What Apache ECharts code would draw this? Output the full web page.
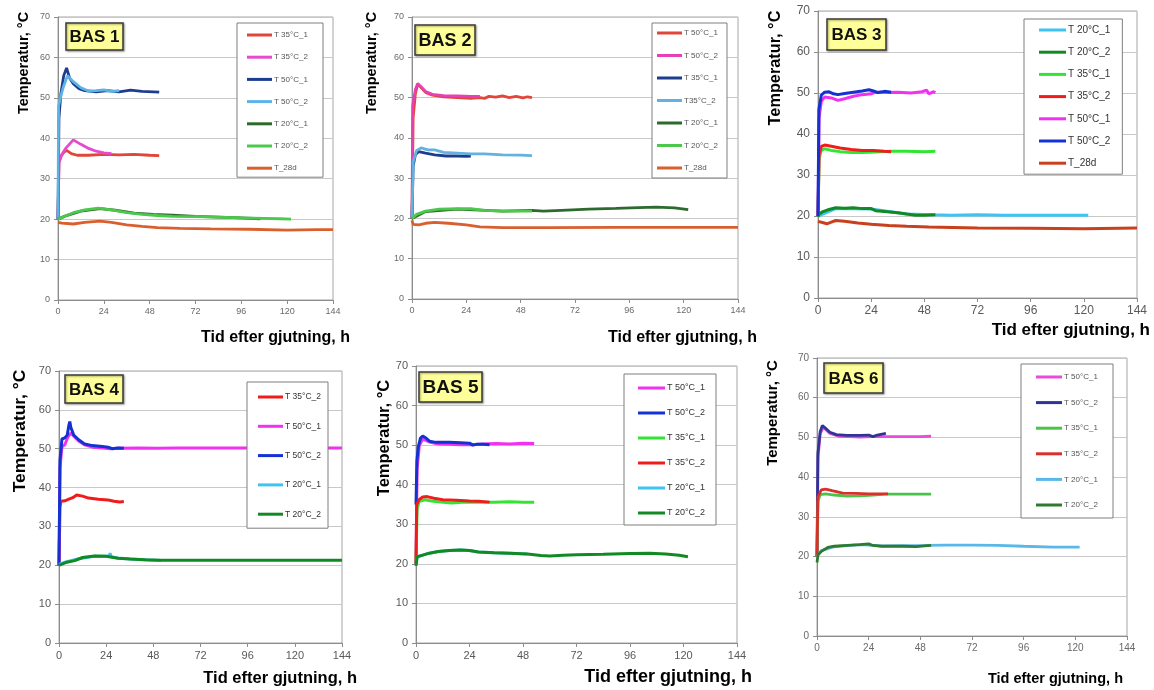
<!DOCTYPE html>
<html>
<head>
<meta charset="utf-8">
<script src="https://cdn.jsdelivr.net/npm/echarts@6/dist/echarts.min.js"></script>
<style>
  html, body { margin: 0; padding: 0; background: #ffffff; }
  #chart { width: 1154px; height: 690px; }
</style>
</head>
<body>
<div id="chart"></div>
<script>
// Temperature curves (h after casting, °C) for six mixes BAS 1 - BAS 6.
const hourTicks = [0, 24, 48, 72, 96, 120, 144];
const tempTicks = [0, 10, 20, 30, 40, 50, 60, 70];

// ---- BAS 1 ----
const b1_names = ['T 35°C_1', 'T 35°C_2', 'T 50°C_1', 'T 50°C_2', 'T 20°C_1', 'T 20°C_2', 'T_28d'];
const b1_t35_1 = [[0,20],[0.5,34],[1.5,35.5],[3,36.5],[4.5,37],[7,36.2],[10,35.8],[16,35.8],[24,36],[32,35.9],[40,36],[48,35.8],[53,35.7]];
const b1_t35_2 = [[0,20],[0.5,34],[2,36],[4,37.5],[8,39.6],[12,38.5],[16,37.5],[20,36.8],[24,36.4],[28,36.2]];
const b1_t50_1 = [[0,20],[0.5,45],[1.5,51],[3,55.5],[4.5,57.4],[6,55],[8,53.5],[11,52.3],[14,51.8],[20,51.5],[26,51.8],[32,51.5],[38,51.9],[44,51.6],[50,51.5],[53,51.4]];
const b1_t50_2 = [[0,20],[0.3,48],[1.5,50.5],[3,53],[5,55.5],[8,54],[12,52.5],[16,51.7],[20,51.8],[24,52],[28,51.6],[32,51.8]];
const b1_t20_1 = [[0,20],[4,20.8],[12,22],[22,22.6],[30,22.2],[40,21.5],[50,21.2],[60,21],[72,20.7],[84,20.5],[96,20.3],[106,20.1]];
const b1_t20_2 = [[0,20],[3,20.6],[8,21.6],[14,22.3],[21,22.7],[28,22.3],[36,21.6],[44,21.2],[52,20.9],[60,20.7],[72,20.6],[84,20.5],[96,20.3],[108,20.2],[116,20.1],[122,20]];
const b1_t28d = [[0,19.2],[2,19],[8,18.8],[14,19.2],[22,19.5],[28,19.2],[36,18.6],[44,18.2],[52,17.9],[64,17.7],[80,17.6],[100,17.5],[120,17.3],[135,17.4],[144,17.4]];

// ---- BAS 2 ----
const b2_names = ['T 50°C_1', 'T 50°C_2', 'T 35°C_1', 'T35°C_2', 'T 20°C_1', 'T 20°C_2', 'T_28d'];
const b2_t50_1 = [[0,20],[0.5,45],[1.5,51],[2.5,53.3],[4,52.5],[6,51.3],[9,50.6],[14,50.2],[20,50],[26,49.8],[30,50],[32,49.8],[34,50.3],[37,50.1],[40,50.4],[43,50],[46,50.3],[49,49.9],[51,50.2],[53,50]];
const b2_t50_2 = [[0,20],[0.3,48],[1.5,52],[2.5,53.5],[4,52.7],[6,51.5],[9,50.8],[14,50.5],[20,50.4],[26,50.3],[30,50.3]];
const b2_t35_1 = [[0,20],[0.5,33],[1.5,35.8],[3,36.6],[6,36.2],[10,35.8],[15,35.5],[20,35.5],[24,35.4],[26,35.5]];
const b2_t35_2 = [[0,20],[0.5,34],[2,36.8],[4,37.5],[7,37],[10,37],[14,36.4],[20,36.2],[26,36],[32,36],[40,35.8],[48,35.7],[53,35.6]];
const b2_t20_1 = [[0,20],[6,21.7],[20,22.3],[40,21.8],[53,22],[58,21.8],[66,22],[78,22.3],[90,22.5],[100,22.7],[108,22.8],[116,22.6],[122,22.2]];
const b2_t20_2 = [[0,20],[2,21],[6,21.8],[12,22.3],[20,22.4],[26,22.4],[32,22],[40,21.8],[48,21.8],[53,21.8]];
const b2_t28d = [[0,19.5],[0.5,18.5],[3,18.4],[6,18.8],[10,19],[16,18.8],[24,18.4],[30,17.9],[40,17.7],[60,17.7],[90,17.8],[120,17.8],[144,17.8]];

// ---- BAS 3 ----
const b3_names = ['T 20°C_1', 'T 20°C_2', 'T 35°C_1', 'T 35°C_2', 'T 50°C_1', 'T 50°C_2', 'T_28d'];
const b3_t20_1 = [[0,20],[8,21.8],[24,21.7],[40,20.5],[52,20.3],[60,20.2],[72,20.3],[84,20.2],[96,20.2],[108,20.2],[122,20.2]];
const b3_t20_2 = [[0,19.8],[0.5,20.5],[2,21],[5,21.6],[8,22],[12,21.9],[16,22],[20,21.8],[24,21.8],[26,21.3],[30,21.1],[36,20.8],[40,20.5],[44,20.2],[48,20.2],[53,20.3]];
const b3_t35_1 = [[0,20],[0.5,34],[1.5,36],[3,36.4],[6,36],[10,35.7],[15,35.5],[20,35.5],[26,35.6],[33,35.8],[40,35.8],[48,35.7],[53,35.8]];
const b3_t35_2 = [[0,20],[0.5,35],[1.5,37],[3,37.3],[6,37],[10,36.6],[15,36.2],[20,36],[25,36],[30,35.8],[33,35.7]];
const b3_t50_1 = [[0,20],[0.5,44],[1.5,48],[3,49],[6,48.8],[9,48.2],[12,48.6],[16,49.2],[20,49.6],[24,49.8],[26,50.2],[30,50.1],[36,50.2],[42,50],[47,50.3],[49,50.7],[50,49.8],[52,50.3],[53,50.1]];
const b3_t50_2 = [[0,20],[0.4,46],[1.5,49.5],[3,50.2],[5,50.3],[7,49.8],[9,49.6],[12,49.9],[16,50.2],[20,50.5],[23,50.8],[25,50.5],[27,50.1],[30,50.4],[33,50.2]];
const b3_t28d = [[0,18.7],[2,18.4],[4,18.1],[6,18.5],[8,18.9],[12,18.7],[18,18.3],[24,18],[32,17.7],[40,17.5],[50,17.3],[72,17.1],[96,17],[120,16.9],[144,17.1]];

// ---- BAS 4 ----
const b4_names = ['T 35°C_2', 'T 50°C_1', 'T 50°C_2', 'T 20°C_1', 'T 20°C_2'];
const b4_t35_2 = [[0,20],[0.5,35],[1,36.5],[3,36.6],[5,37],[7,37.4],[9,38.1],[10,38.2],[12,37.8],[15,37.3],[20,37],[25,36.8],[28,36.5],[31,36.3],[33,36.4]];
const b4_t50_1 = [[0,20],[0.5,45],[1.5,50.5],[3,51],[4.5,53],[6,54],[8,53],[10,52],[13,51],[17,50.4],[22,50.2],[26,50],[30,50.1],[40,50.2],[50,50.1],[60,50.2],[80,50.2],[100,50.2],[120,50.2],[144,50.2]];
const b4_t50_2 = [[0,20],[0.5,47],[1.5,52.5],[3,52.8],[4.2,53.5],[5,56],[5.5,57],[6,55.5],[7.5,53.5],[10,52.3],[13,51.2],[17,50.8],[22,50.6],[25,50.4],[26,50.6],[27,50],[30,50.2],[33,50.1]];
const b4_t20_1 = [[0,20.2],[3,20.8],[10,21.7],[18,22.3],[24,22.3],[25.5,22.4],[26,23.1],[26.5,22.2],[30,21.9],[40,21.5],[48,21.3],[52,21.2]];
const b4_t20_2 = [[0,20],[1,20.5],[4,20.8],[8,21.2],[12,22],[18,22.4],[24,22.3],[30,21.8],[36,21.6],[44,21.4],[52,21.3],[72,21.3],[100,21.3],[144,21.3]];

// ---- BAS 5 ----
const b5_names = ['T 50°C_1', 'T 50°C_2', 'T 35°C_1', 'T 35°C_2', 'T 20°C_1', 'T 20°C_2'];
const b5_t50_1 = [[0,20],[0.5,44],[1.5,50],[3,51.5],[6,50.8],[10,50.3],[15,50.2],[20,50.1],[25,50.1],[30,50.3],[36,50.4],[42,50.3],[48,50.5],[53,50.4]];
const b5_t50_2 = [[0,35],[0.4,46],[1,49.5],[2,51.8],[3,52.3],[4.5,51.8],[6,51],[9,50.7],[15,50.7],[20,50.6],[24,50.5],[25.5,50],[27,50.2],[30,50.2],[33,50.1]];
const b5_t35_1 = [[0,20],[0.5,34],[1.5,35.8],[4,36.2],[7,35.9],[11,35.6],[16,35.4],[22,35.6],[28,35.6],[35,35.6],[42,35.7],[48,35.6],[53,35.6]];
const b5_t35_2 = [[0,20],[0.3,35],[1.5,36.3],[3,36.9],[5,37],[8,36.6],[12,36.2],[18,36.1],[24,35.9],[28,35.8],[33,35.6]];
const b5_t20_1 = [[0,19.8],[0.5,21.7],[3,22.2],[6,22.7],[10,23.1],[15,23.4],[20,23.5],[24,23.4],[28,23],[35,22.8],[42,22.7],[50,22.5]];
const b5_t20_2 = [[0,19.5],[0.5,21.8],[3,22.2],[6,22.7],[10,23.1],[15,23.4],[20,23.5],[24,23.4],[28,23],[35,22.8],[42,22.7],[50,22.5],[56,22.1],[60,22],[66,22.2],[72,22.3],[84,22.4],[96,22.6],[105,22.7],[112,22.5],[118,22.2],[122,21.8]];

// ---- BAS 6 ----
const b6_names = ['T 50°C_1', 'T 50°C_2', 'T 35°C_1', 'T 35°C_2', 'T 20°C_1', 'T 20°C_2'];
const b6_t50_1 = [[0,20],[0.5,45],[1.5,51],[3,52.5],[6,51],[10,50.3],[15,50.2],[20,50.1],[26,50.2],[32,50.2],[40,50.2],[48,50.2],[53,50.3]];
const b6_t50_2 = [[0,20],[0.4,46],[1.5,51.5],[2.5,53],[4,52.3],[6,51.3],[9,50.7],[14,50.5],[20,50.5],[24,50.6],[26,50.2],[28,50.6],[32,51]];
const b6_t35_1 = [[0,20],[0.5,34],[1.5,35.6],[4,35.8],[8,35.5],[14,35.2],[20,35.3],[26,35.5],[32,35.7],[40,35.7],[48,35.7],[53,35.7]];
const b6_t35_2 = [[0,20],[0.4,35],[2,36.8],[4,37],[7,36.6],[12,36],[18,35.9],[24,35.8],[30,35.8],[33,35.8]];
const b6_t20_1 = [[0,20],[2,21.5],[8,22.5],[20,23],[30,22.7],[50,22.8],[60,22.9],[72,22.9],[84,22.8],[96,22.6],[110,22.4],[122,22.4]];
const b6_t20_2 = [[0,18.5],[0.5,20.5],[2,21.3],[5,22.3],[8,22.6],[14,22.8],[20,23],[24,23.2],[26,22.8],[30,22.6],[40,22.6],[46,22.5],[50,22.7],[53,22.8]];

// Scanned-look palette (BAS 1, 2, 6) and the brighter palette (BAS 3, 4, 5)
const C = {
  red: '#e0463a', mag: '#e64acd', dblue: '#1f3d8f', lblue: '#5ab4e5',
  dgreen: '#2d6a2d', lgreen: '#4cc94c', t28: '#d9602e',
  vRed: '#f01c1c', vMag: '#f032f0', vBlue: '#1432d2', vLblue: '#3dc4f2',
  vDgreen: '#128a24', vGreen: '#33e533', vT28: '#c8401c'
};

const panels = [
  { id: 1, grid: [58, 17, 275, 283], names: b1_names,
    data: [b1_t35_1, b1_t35_2, b1_t50_1, b1_t50_2, b1_t20_1, b1_t20_2, b1_t28d],
    colors: [C.red, C.mag, C.dblue, C.lblue, C.dgreen, C.lgreen, C.t28],
    tickFont: 9, tickColor: '#6a6a6a', lw: 2.8,
    legend: { box: [237, 23], pad: [7, 5, 4, 10], iw: 25, ih: 3, gap: 12.2, font: 8, tw: 44, lh: 10, color: '#555' },
    bas: { rect: [66, 23, 57, 27], font: 17 },
    yTitle: { x: 24, y: 63, font: 14.5 }, xTitle: { x: 350, y: 338, font: 16 } },
  { id: 2, grid: [412, 17, 326, 282], names: b2_names,
    data: [b2_t50_1, b2_t50_2, b2_t35_1, b2_t35_2, b2_t20_1, b2_t20_2, b2_t28d],
    colors: [C.red, '#e640b4', C.dblue, '#62b2e0', C.dgreen, C.lgreen, C.t28],
    tickFont: 9, tickColor: '#6a6a6a', lw: 2.8,
    legend: { box: [652, 23], pad: [5, 5, 5, 5], iw: 25, ih: 3, gap: 12.5, font: 8, tw: 38, lh: 10, color: '#555' },
    bas: { rect: [415, 25, 60, 30], font: 18 },
    yTitle: { x: 372, y: 63, font: 14.5 }, xTitle: { x: 757, y: 338, font: 16 } },
  { id: 3, grid: [818, 11, 319, 287], names: b3_names,
    data: [b3_t20_1, b3_t20_2, b3_t35_1, b3_t35_2, b3_t50_1, b3_t50_2, b3_t28d],
    colors: [C.vLblue, C.vDgreen, C.vGreen, C.vRed, C.vMag, C.vBlue, C.vT28],
    tickFont: 12, tickColor: '#595959', lw: 3,
    legend: { box: [1024, 19], pad: [5, 12, 5, 15], iw: 27, ih: 3, gap: 10.2, font: 10, tw: 40, lh: 12, color: '#333' },
    bas: { rect: [827, 19, 59, 31], font: 17 },
    yTitle: { x: 776, y: 68, font: 16.3 }, xTitle: { x: 1150, y: 330, font: 17 } },
  { id: 4, grid: [59, 371, 283, 272], names: b4_names,
    data: [b4_t35_2, b4_t50_1, b4_t50_2, b4_t20_1, b4_t20_2],
    colors: [C.vRed, C.vMag, C.vBlue, C.vLblue, C.vDgreen],
    tickFont: 11, tickColor: '#595959', lw: 3,
    legend: { box: [247, 382], pad: [10, 6, 9, 11], iw: 25, ih: 3, gap: 19.3, font: 8.5, tw: 37, lh: 10, color: '#333' },
    bas: { rect: [65, 375, 58, 28], font: 17 },
    yTitle: { x: 20, y: 431, font: 17.4 }, xTitle: { x: 357, y: 678, font: 16.5 } },
  { id: 5, grid: [416, 366, 321, 277], names: b5_names,
    data: [b5_t50_1, b5_t50_2, b5_t35_1, b5_t35_2, b5_t20_1, b5_t20_2],
    colors: [C.vMag, C.vBlue, C.vGreen, C.vRed, C.vLblue, C.vDgreen],
    tickFont: 11, tickColor: '#595959', lw: 3,
    legend: { box: [624, 374], pad: [9, 8, 7, 14], iw: 27, ih: 3, gap: 15, font: 9, tw: 41, lh: 10, color: '#333' },
    bas: { rect: [419, 372, 63, 30], font: 19 },
    yTitle: { x: 384, y: 438, font: 16.5 }, xTitle: { x: 752, y: 677, font: 18 } },
  { id: 6, grid: [817, 358, 310, 278], names: b6_names,
    data: [b6_t50_1, b6_t50_2, b6_t35_1, b6_t35_2, b6_t20_1, b6_t20_2],
    colors: ['#e84cd8', '#2e3596', '#49c449', '#d8302a', '#5ab8e8', '#2d7a30'],
    tickFont: 10, tickColor: '#6a6a6a', lw: 2.8,
    legend: { box: [1021, 364], pad: [8, 11, 8, 15], iw: 26, ih: 3, gap: 15.6, font: 8, tw: 38, lh: 10, color: '#555' },
    bas: { rect: [824, 363, 59, 30], font: 17 },
    yTitle: { x: 773, y: 413, font: 15 }, xTitle: { x: 1123, y: 679, font: 14.5 } }
];

const FONT = '"Liberation Sans", Arial, sans-serif';
const option = {
  animation: false,
  backgroundColor: '#ffffff',
  grid: [], xAxis: [], yAxis: [], series: [], legend: [], graphic: []
};

panels.forEach((p, i) => {
  const [gl, gt, gw, gh] = p.grid;
  option.grid.push({ left: gl, top: gt, width: gw, height: gh, show: true,
    borderColor: '#a6a6a6', borderWidth: 1, backgroundColor: 'transparent' });
  option.xAxis.push({
    type: 'value', gridIndex: i, min: hourTicks[0], max: hourTicks[hourTicks.length - 1],
    interval: hourTicks[1] - hourTicks[0],
    axisLine: { show: true, lineStyle: { color: '#8c8c8c' } },
    axisTick: { show: true, length: 4, lineStyle: { color: '#8c8c8c' } },
    splitLine: { show: false },
    axisLabel: { fontFamily: FONT, fontSize: p.tickFont, color: p.tickColor, margin: 7 }
  });
  option.yAxis.push({
    type: 'value', gridIndex: i, min: tempTicks[0], max: tempTicks[tempTicks.length - 1],
    interval: tempTicks[1] - tempTicks[0],
    axisLine: { show: true, lineStyle: { color: '#8c8c8c' } },
    axisTick: { show: true, length: 4, lineStyle: { color: '#8c8c8c' } },
    splitLine: { show: true, lineStyle: { color: '#c8c8c8', width: 1 } },
    axisLabel: { fontFamily: FONT, fontSize: p.tickFont, color: p.tickColor, margin: 8 }
  });
  const legendNames = [];
  p.names.forEach((nm, k) => {
    const sname = p.id + '|' + nm;
    legendNames.push(sname);
    option.series.push({
      type: 'line', name: sname, xAxisIndex: i, yAxisIndex: i,
      data: p.data[k], showSymbol: false, symbol: 'none', smooth: false,
      lineStyle: { width: p.lw, color: p.colors[k] }, itemStyle: { color: p.colors[k] },
      z: 2 + k * 0.01, silent: true
    });
  });
  const L = p.legend;
  option.legend.push({
    data: legendNames, orient: 'vertical', left: L.box[0], top: L.box[1],
    padding: L.pad, itemGap: L.gap, itemWidth: L.iw, itemHeight: L.ih, icon: 'rect',
    borderColor: '#7f7f7f', borderWidth: 1, backgroundColor: '#ffffff',
    selectedMode: false,
    formatter: n => n.split('|')[1],
    textStyle: { fontFamily: FONT, fontSize: L.font, color: L.color, lineHeight: L.lh,
      width: L.tw, overflow: 'none', padding: [0, 0, 0, -3] }
  });
  const [bx, by, bw, bh] = p.bas.rect;
  option.graphic.push({
    type: 'rect', shape: { x: bx, y: by, width: bw, height: bh },
    style: { fill: '#ffff99', stroke: '#3a3a3a', lineWidth: 1.5,
      shadowBlur: 2, shadowOffsetX: 1, shadowOffsetY: 1, shadowColor: 'rgba(0,0,0,0.35)' },
    z: 100
  });
  option.graphic.push({
    type: 'text', x: bx + bw / 2, y: by + bh / 2 + 1, z: 101,
    style: { text: 'BAS ' + p.id, font: 'bold ' + p.bas.font + 'px ' + FONT, fill: '#111',
      align: 'center', verticalAlign: 'middle', textAlign: 'center', textVerticalAlign: 'middle' }
  });
  option.graphic.push({
    type: 'text', x: p.yTitle.x, y: p.yTitle.y, rotation: Math.PI / 2, z: 101,
    style: { text: 'Temperatur, °C', font: 'bold ' + p.yTitle.font + 'px ' + FONT, fill: '#000',
      align: 'center', verticalAlign: 'middle', textAlign: 'center', textVerticalAlign: 'middle' }
  });
  option.graphic.push({
    type: 'text', x: p.xTitle.x, y: p.xTitle.y, z: 101,
    style: { text: 'Tid efter gjutning, h', font: 'bold ' + p.xTitle.font + 'px ' + FONT, fill: '#000',
      align: 'right', verticalAlign: 'middle', textAlign: 'right', textVerticalAlign: 'middle' }
  });
});

const chart = echarts.init(document.getElementById('chart'), null, { renderer: 'canvas' });
chart.setOption(option);
</script>
</body>
</html>
